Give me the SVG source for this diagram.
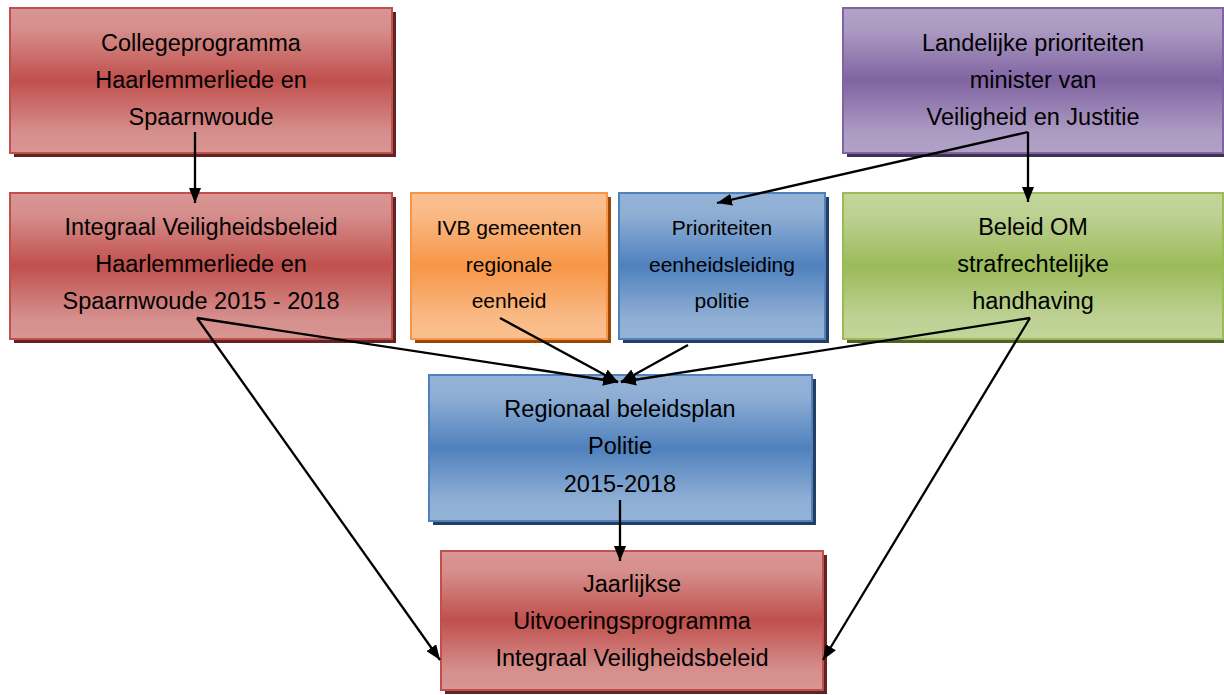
<svg xmlns="http://www.w3.org/2000/svg" width="1224" height="695" viewBox="0 0 1224 695">
<style>
text{font-family:"Liberation Sans",Arial,sans-serif;fill:#000;text-anchor:middle}
.big{font-size:23.5px}
.small{font-size:21px}
.conn{stroke:#000;stroke-width:2.3;fill:none;marker-end:url(#arr)}
.red{fill:url(#gRed);stroke:#c0504d;stroke-width:2}
.pur{fill:url(#gPur);stroke:#8064a2;stroke-width:2}
.blu{fill:url(#gBlu);stroke:#4f81bd;stroke-width:2}
.ora{fill:url(#gOra);stroke:#f79646;stroke-width:2}
.gre{fill:url(#gGre);stroke:#9bbb59;stroke-width:2}
.sRed{fill:#622423}.sPur{fill:#3f3151}.sBlu{fill:#243f60}.sOra{fill:#984806}.sGre{fill:#4f6128}
</style>
<defs>
<linearGradient id="gRed" x1="0" y1="0" x2="0" y2="1"><stop offset="0" stop-color="#d99694"/><stop offset="0.15" stop-color="#d58e8c"/><stop offset="0.5" stop-color="#c0504d"/><stop offset="0.85" stop-color="#d58e8c"/><stop offset="1" stop-color="#d99694"/></linearGradient>
<linearGradient id="gPur" x1="0" y1="0" x2="0" y2="1"><stop offset="0" stop-color="#b2a2c7"/><stop offset="0.15" stop-color="#ab9ac2"/><stop offset="0.5" stop-color="#8064a2"/><stop offset="0.85" stop-color="#ab9ac2"/><stop offset="1" stop-color="#b2a2c7"/></linearGradient>
<linearGradient id="gBlu" x1="0" y1="0" x2="0" y2="1"><stop offset="0" stop-color="#95b3d7"/><stop offset="0.15" stop-color="#8eaed4"/><stop offset="0.5" stop-color="#4f81bd"/><stop offset="0.85" stop-color="#8eaed4"/><stop offset="1" stop-color="#95b3d7"/></linearGradient>
<linearGradient id="gOra" x1="0" y1="0" x2="0" y2="1"><stop offset="0" stop-color="#fac090"/><stop offset="0.15" stop-color="#f9b985"/><stop offset="0.5" stop-color="#f79646"/><stop offset="0.85" stop-color="#f9b985"/><stop offset="1" stop-color="#fac090"/></linearGradient>
<linearGradient id="gGre" x1="0" y1="0" x2="0" y2="1"><stop offset="0" stop-color="#c3d69b"/><stop offset="0.15" stop-color="#bdd193"/><stop offset="0.5" stop-color="#9bbb59"/><stop offset="0.85" stop-color="#bdd193"/><stop offset="1" stop-color="#c3d69b"/></linearGradient>
<marker id="arr" markerUnits="userSpaceOnUse" markerWidth="15" markerHeight="12" refX="15" refY="6" orient="auto"><path d="M0,0 L15,6 L0,12 z" fill="#000"/></marker>
</defs>

<g id="collegeprogramma">
<rect class="sRed" x="14" y="12" width="382" height="145"/>
<rect class="red" x="10" y="8" width="382" height="145"/>
<text class="big" x="201" y="51">Collegeprogramma</text>
<text class="big" x="201" y="88">Haarlemmerliede en</text>
<text class="big" x="201" y="125">Spaarnwoude</text>
</g>

<g id="landelijke">
<rect class="sPur" x="847" y="12" width="380" height="145"/>
<rect class="pur" x="843" y="8" width="380" height="145"/>
<text class="big" x="1033" y="51">Landelijke prioriteiten</text>
<text class="big" x="1033" y="88">minister van</text>
<text class="big" x="1033" y="125">Veiligheid en Justitie</text>
</g>

<g id="integraal">
<rect class="sRed" x="14" y="197" width="382" height="146"/>
<rect class="red" x="10" y="193" width="382" height="146"/>
<text class="big" x="201" y="235">Integraal Veiligheidsbeleid</text>
<text class="big" x="201" y="272">Haarlemmerliede en</text>
<text class="big" x="201" y="309">Spaarnwoude 2015 - 2018</text>
</g>

<g id="ivb">
<rect class="sOra" x="415" y="197" width="196" height="146"/>
<rect class="ora" x="411" y="193" width="196" height="146"/>
<text class="small" x="509" y="235">IVB gemeenten</text>
<text class="small" x="509" y="272">regionale</text>
<text class="small" x="509" y="308">eenheid</text>
</g>

<g id="prioriteiten">
<rect class="sBlu" x="623" y="197" width="206" height="146"/>
<rect class="blu" x="619" y="193" width="206" height="146"/>
<text class="small" x="722" y="235">Prioriteiten</text>
<text class="small" x="722" y="272">eenheidsleiding</text>
<text class="small" x="722" y="308">politie</text>
</g>

<g id="beleidom">
<rect class="sGre" x="847" y="197" width="380" height="146"/>
<rect class="gre" x="843" y="193" width="380" height="146"/>
<text class="big" x="1033" y="235">Beleid OM</text>
<text class="big" x="1033" y="272">strafrechtelijke</text>
<text class="big" x="1033" y="309">handhaving</text>
</g>

<g id="regionaal">
<rect class="sBlu" x="433" y="379" width="383" height="146"/>
<rect class="blu" x="429" y="375" width="383" height="146"/>
<text class="big" x="620" y="417">Regionaal beleidsplan</text>
<text class="big" x="620" y="454">Politie</text>
<text class="big" x="620" y="492">2015-2018</text>
</g>

<g id="jaarlijkse">
<rect class="sRed" x="445" y="555" width="382" height="139"/>
<rect class="red" x="441" y="551" width="382" height="139"/>
<text class="big" x="632" y="592">Jaarlijkse</text>
<text class="big" x="632" y="629">Uitvoeringsprogramma</text>
<text class="big" x="632" y="666">Integraal Veiligheidsbeleid</text>
</g>

<g id="connectors">
<path class="conn" d="M195,132 L195,203"/>
<path class="conn" d="M1028,132 L717,203"/>
<path class="conn" d="M1028,132 L1028,202"/>
<path class="conn" d="M197,318 L618,382"/>
<path class="conn" d="M197,318 L440,660"/>
<path class="conn" d="M500,318 L618,382"/>
<path class="conn" d="M688,345 L621,382"/>
<path class="conn" d="M1030,318 L621,382"/>
<path class="conn" d="M1030,318 L823,660"/>
<path class="conn" d="M620,500 L620,561"/>
</g>
</svg>
